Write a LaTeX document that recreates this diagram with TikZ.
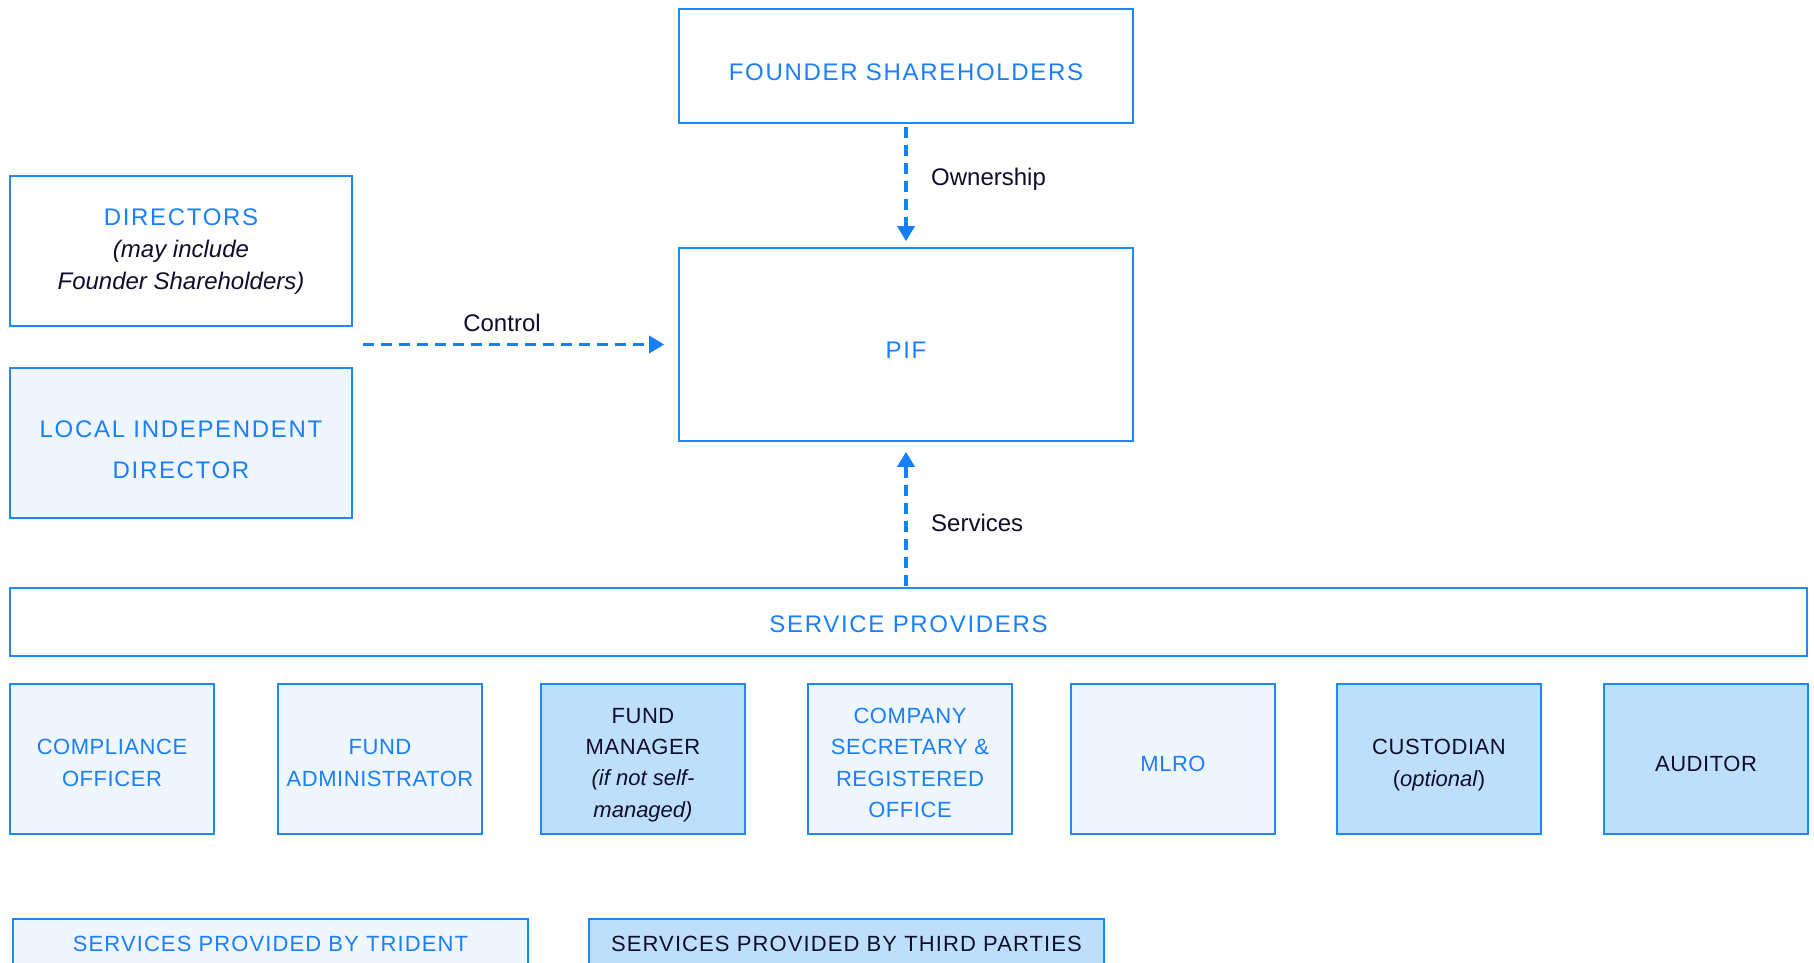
\documentclass[tikz,border=0pt]{standalone}
\usepackage{fontspec}
\setmainfont{Liberation Sans}
\newfontfamily\capsfont[LetterSpace=7]{Liberation Sans}
\newfontfamily\rowfont[LetterSpace=2.5]{Liberation Sans}
\newfontfamily\legfont[LetterSpace=5]{Liberation Sans}
\usetikzlibrary{arrows.meta}
\definecolor{blueline}{HTML}{1E88F5}
\definecolor{arrowblue}{HTML}{1580FA}
\definecolor{bluetext}{HTML}{1A7FFA}
\definecolor{lightfill}{HTML}{EFF6FE}
\definecolor{darkfill}{HTML}{BEDFFC}
\definecolor{darktext}{HTML}{0E0E2C}
\begin{document}
\begin{tikzpicture}[x=1pt,y=-1pt,
  box/.style={draw=blueline, line width=1.6pt, inner sep=0pt, anchor=center},
  tridentbox/.style={box, fill=lightfill},
  thirdbox/.style={box, fill=darkfill},
  rowbox/.style={minimum width=204pt, minimum height=150pt},
  maintext/.style={inner sep=0pt, align=center, text=bluetext, font=\fontsize{24}{32}\selectfont\capsfont},
  rowtext/.style={inner sep=0pt, align=center, text=bluetext, font=\fontsize{22}{31.3}\selectfont\rowfont},
  rowdark/.style={rowtext, text=darktext},
  legtext/.style={inner sep=0pt, align=center, font=\fontsize{22}{30}\selectfont\legfont},
  lbl/.style={inner sep=0pt, text=darktext, font=\fontsize{24}{30}\selectfont},
  flow/.style={draw=arrowblue, line width=3.4pt, dash pattern=on 11pt off 7pt, -{Triangle[length=15pt,width=17pt]}}
]
\useasboundingbox (0,0) rectangle (1814,962);
\clip (0,0) rectangle (1814,962);
\fill[white] (0,0) rectangle (1814,962);

% top boxes
\node[box, minimum width=454pt, minimum height=114pt] (founder) at (906,66) {};
\node[maintext] (founder-t) at (906,72) {FOUNDER SHAREHOLDERS};
\node[box, minimum width=454pt, minimum height=193pt] (pif) at (906,344.5) {};
\node[maintext] (pif-t) at (906,350) {PIF};

\node[box, minimum width=342pt, minimum height=150pt] (dir) at (181,251) {};
\node[maintext] (dir-t) at (181,252) {DIRECTORS\\{\normalfont\itshape\color{darktext}(may include}\\{\normalfont\itshape\color{darktext}Founder Shareholders)}};
\node[tridentbox, minimum width=342pt, minimum height=150pt] (local) at (181,443) {};
\node[maintext, font=\fontsize{24}{40.5}\selectfont\capsfont] (local-t) at (181,449.5) {LOCAL INDEPENDENT\\DIRECTOR};

\node[box, minimum width=1797pt, minimum height=68pt] (sp) at (908.5,622) {};
\node[maintext] (sp-t) at (908.5,624) {SERVICE PROVIDERS};

% bottom row
\node[tridentbox, rowbox] (co) at (112,759) {};
\node[rowtext] (co-t) at (112,763) {COMPLIANCE\\OFFICER};
\node[tridentbox, rowbox] (fa) at (380,759) {};
\node[rowtext] (fa-t) at (380,763) {FUND\\ADMINISTRATOR};
\node[thirdbox, rowbox] (fm) at (643,759) {};
\node[rowdark] (fm-t) at (643,765) {FUND\\MANAGER\\{\normalfont\itshape (if not self-}\\{\normalfont\itshape managed)}};
\node[tridentbox, rowbox] (cs) at (910,759) {};
\node[rowtext] (cs-t) at (910,763) {COMPANY\\SECRETARY \&\\REGISTERED\\OFFICE};
\node[tridentbox, rowbox] (ml) at (1173,759) {};
\node[rowtext] (ml-t) at (1173,763.5) {MLRO};
\node[thirdbox, rowbox] (cu) at (1439,759) {};
\node[rowdark] (cu-t) at (1439,765) {CUSTODIAN\\{\normalfont(\textit{optional})}};
\node[thirdbox, rowbox] (au) at (1706,759) {};
\node[rowdark] (au-t) at (1706,763.5) {AUDITOR};

% legend
\node[tridentbox, minimum width=515pt, minimum height=61pt] (lg1) at (270.5,949.5) {};
\node[legtext, text=bluetext] (lg1-t) at (270.5,944) {SERVICES PROVIDED BY TRIDENT};
\node[thirdbox, minimum width=515pt, minimum height=61pt] (lg2) at (846.5,949.5) {};
\node[legtext, text=darktext] (lg2-t) at (846.5,944) {SERVICES PROVIDED BY THIRD PARTIES};

% connectors
\coordinate (ctl) at (363,344.5);
\draw[flow, shorten >=14pt] (ctl) -- (pif.west);
\node[lbl] (ctl-l) at (502,323) {Control};
\draw[flow, shorten <=3pt, shorten >=6pt] (founder.south) -- (pif.north);
\node[lbl, anchor=west] (own-l) at (931,179) {Ownership};
\draw[flow, shorten <=1pt, shorten >=10pt] (pif.south |- sp.north) -- (pif.south);
\node[lbl, anchor=west] (srv-l) at (931,523) {Services};
\end{tikzpicture}
\end{document}
